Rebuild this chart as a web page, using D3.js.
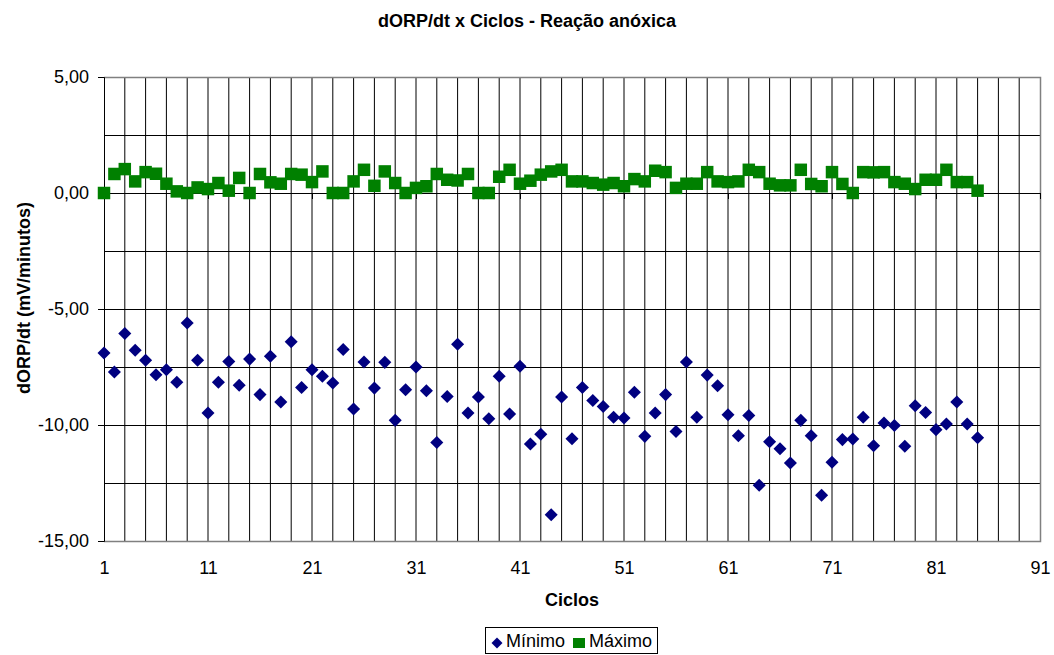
<!DOCTYPE html>
<html>
<head>
<meta charset="utf-8">
<script src="https://cdn.jsdelivr.net/npm/d3@7"></script>
<style>
  body { margin: 0; background: #fff; }
  text { font-family: "Liberation Sans", Arial, sans-serif; }
</style>
</head>
<body>
<div class="chart"></div>
<script>
// Data
const ciclos = [1, 2, 3, 4, 5, 6, 7, 8, 9, 10, 11, 12, 13, 14, 15, 16, 17, 18, 19, 20,
  21, 22, 23, 24, 25, 26, 27, 28, 29, 30, 31, 32, 33, 34, 35, 36, 37, 38, 39, 40,
  41, 42, 43, 44, 45, 46, 47, 48, 49, 50, 51, 52, 53, 54, 55, 56, 57, 58, 59, 60,
  61, 62, 63, 64, 65, 66, 67, 68, 69, 70, 71, 72, 73, 74, 75, 76, 77, 78, 79, 80,
  81, 82, 83, 84, 85];
const minimo = [-6.90, -7.72, -6.06, -6.78, -7.21, -7.83, -7.62, -8.16, -5.60, -7.21,
  -9.48, -8.16, -7.26, -8.29, -7.16, -8.69, -7.04, -9.01, -6.41, -8.38,
  -7.62, -7.90, -8.19, -6.75, -9.31, -7.28, -8.41, -7.30, -9.80, -8.48,
  -7.50, -8.52, -10.75, -8.77, -6.52, -9.48, -8.79, -9.73, -7.90, -9.53,
  -7.47, -10.82, -10.40, -13.87, -8.79, -10.59, -8.38, -8.94, -9.20, -9.67,
  -9.70, -8.59, -10.49, -9.48, -8.69, -10.28, -7.28, -9.67, -7.85, -8.31,
  -9.56, -10.46, -9.59, -12.60, -10.72, -11.02, -11.64, -9.80, -10.46, -13.03,
  -11.61, -10.63, -10.60, -9.67, -10.89, -9.91, -10.02, -10.92, -9.17, -9.46,
  -10.20, -9.96, -9.01, -9.96, -10.55];
const maximo = [0.00, 0.82, 1.03, 0.50, 0.90, 0.83, 0.40, 0.07, 0.00, 0.24,
  0.17, 0.43, 0.10, 0.65, 0.00, 0.82, 0.46, 0.40, 0.82, 0.79,
  0.47, 0.93, 0.00, 0.00, 0.50, 1.00, 0.31, 0.93, 0.43, 0.00,
  0.22, 0.29, 0.82, 0.57, 0.54, 0.82, 0.00, 0.00, 0.70, 1.00,
  0.40, 0.53, 0.79, 0.93, 1.00, 0.50, 0.50, 0.43, 0.36, 0.43,
  0.29, 0.60, 0.50, 0.96, 0.90, 0.22, 0.40, 0.40, 0.90, 0.50,
  0.47, 0.50, 1.00, 0.90, 0.40, 0.33, 0.33, 1.00, 0.39, 0.29,
  0.90, 0.39, 0.00, 0.90, 0.89, 0.90, 0.47, 0.40, 0.17, 0.57,
  0.57, 1.00, 0.47, 0.47, 0.10];
const xTicks = [1, 11, 21, 31, 41, 51, 61, 71, 81, 91];
const yTicks = [-15, -10, -5, 0, 5];
const seriesNames = ["Mínimo", "Máximo"];

const width = 1054, height = 655;
const plot = { left: 104, right: 1040, top: 77, bottom: 541 };

const svg = d3.select(".chart")
    .append("svg")
    .attr("width", width)
    .attr("height", height)
    .style("display", "block");

svg.append("rect").attr("width", width).attr("height", height).attr("fill", "#fff");

const xScale = d3.scaleLinear().domain([1, 91]).range([plot.left, plot.right]);
const yScale = d3.scaleLinear().domain([-15, 5]).range([plot.bottom, plot.top]);

const comma = d => d3.format(".2f")(d).replace(".", ",").replace("\u2212", "-");

// Gridlines: vertical every 2 cycles, horizontal every 2.5
svg.append("g")
    .selectAll("line")
    .data(d3.range(3, 91, 2))
    .join("line")
    .attr("x1", d => xScale(d)).attr("x2", d => xScale(d))
    .attr("y1", plot.top).attr("y2", plot.bottom)
    .attr("stroke", "#000").attr("stroke-width", 1);

svg.append("g")
    .selectAll("line")
    .data([-12.5, -10, -7.5, -5, -2.5, 2.5])
    .join("line")
    .attr("x1", plot.left).attr("x2", plot.right)
    .attr("y1", d => Math.round(yScale(d)) + 0.5).attr("y2", d => Math.round(yScale(d)) + 0.5)
    .attr("stroke", "#000").attr("stroke-width", 1);

// Plot area border (top, right, bottom)
svg.append("path")
    .attr("d", `M${plot.left},${plot.top + 0.5}H${plot.right + 0.5}V${plot.bottom + 0.5}H${plot.left}`)
    .attr("fill", "none")
    .attr("stroke", "#808080")
    .attr("stroke-width", 1.5);

// Y axis
const yAxis = svg.append("g")
    .attr("transform", `translate(${plot.left},0)`)
    .call(d3.axisLeft(yScale).tickValues(yTicks).tickSize(6).tickPadding(9).tickFormat(comma));
yAxis.selectAll("text").style("font-size", "18px").attr("fill", "#000");
yAxis.selectAll("line, path").attr("stroke", "#000");

// X axis crossing at zero
const xAxis = svg.append("g")
    .attr("transform", `translate(0,${yScale(0)})`)
    .call(d3.axisBottom(xScale).tickValues(xTicks).tickSize(6).tickSizeOuter(0).tickFormat(""));
xAxis.selectAll("line, path").attr("stroke", "#000");

// X labels at the bottom
const xLabels = svg.append("g")
    .attr("transform", `translate(0,${plot.bottom})`)
    .call(d3.axisBottom(xScale).tickValues(xTicks).tickSize(0).tickPadding(20));
xLabels.select(".domain").remove();
xLabels.selectAll("text").style("font-size", "18px").attr("fill", "#000");

// Series
svg.append("g")
    .selectAll("path")
    .data(minimo)
    .join("path")
    .attr("d", d3.symbol(d3.symbolSquare, 85))
    .attr("transform", (d, i) => `translate(${xScale(ciclos[i])},${yScale(d)}) rotate(45)`)
    .attr("fill", "#000080");

svg.append("g")
    .selectAll("path")
    .data(maximo)
    .join("path")
    .attr("d", d3.symbol(d3.symbolSquare, 156))
    .attr("transform", (d, i) => `translate(${xScale(ciclos[i])},${yScale(d)})`)
    .attr("fill", "#008000");

// Titles
svg.append("text")
    .attr("x", 527).attr("y", 27)
    .attr("text-anchor", "middle")
    .style("font-size", "18px").style("font-weight", "bold")
    .text("dORP/dt x Ciclos - Reação anóxica");

svg.append("text")
    .attr("x", (plot.left + plot.right) / 2).attr("y", 606)
    .attr("text-anchor", "middle")
    .style("font-size", "18px").style("font-weight", "bold")
    .text("Ciclos");

svg.append("text")
    .attr("transform", "rotate(-90)")
    .attr("x", -298).attr("y", 30)
    .attr("text-anchor", "middle")
    .style("font-size", "18px").style("font-weight", "bold")
    .text("dORP/dt (mV/minutos)");

// Legend
const legend = svg.append("g");
legend.append("rect")
    .attr("x", 485.5).attr("y", 627.5)
    .attr("width", 172).attr("height", 26)
    .attr("fill", "#fff").attr("stroke", "#000");
legend.append("path")
    .attr("d", d3.symbol(d3.symbolSquare, 60))
    .attr("transform", "translate(497,643) rotate(45)")
    .attr("fill", "#000080");
legend.append("rect")
    .attr("x", 573).attr("y", 638)
    .attr("width", 12).attr("height", 10)
    .attr("fill", "#008000");
legend.selectAll(".legend-text")
    .data(seriesNames)
    .join("text")
    .attr("class", "legend-text")
    .attr("x", (d, i) => i === 0 ? 506 : 589)
    .attr("y", 647)
    .style("font-size", "18px")
    .text(d => d);
</script>
</body>
</html>
